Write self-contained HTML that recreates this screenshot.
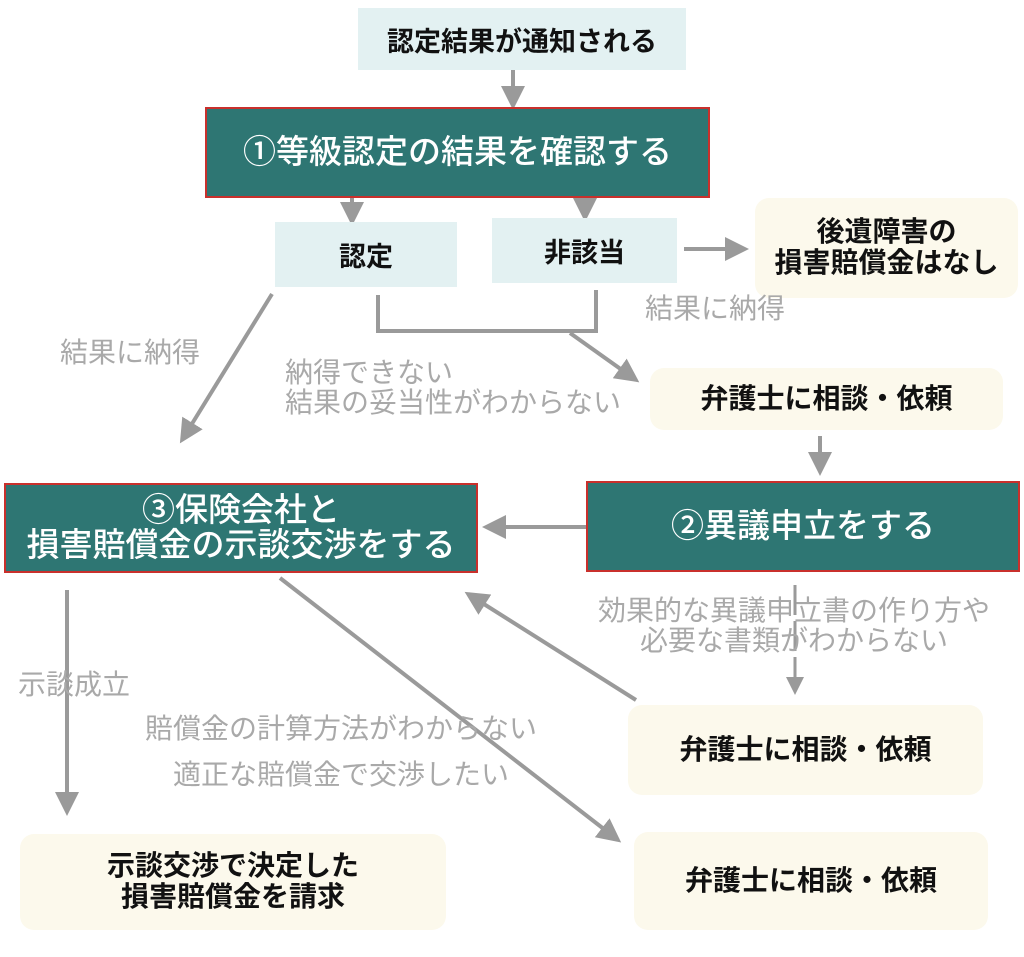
<!DOCTYPE html>
<html><head><meta charset="utf-8"><style>
body{margin:0;width:1024px;height:957px;background:#fff;position:relative;overflow:hidden;font-family:"Liberation Sans","Noto Sans CJK JP",sans-serif;}
.b{position:absolute;display:flex;align-items:center;justify-content:center;text-align:center;font-weight:bold;color:#111;box-sizing:border-box;white-space:nowrap;}
.cy{background:#e3f1f2;font-size:27px;}
.tl{background:#2e7673;border:2px solid #c9302c;color:#fff;font-size:33px;font-weight:500;line-height:1.05;}
.cr{background:#fcf9ec;border-radius:14px;font-size:28px;line-height:1.1;}
.g{position:absolute;color:#a9a9a9;font-size:28px;line-height:1.08;white-space:nowrap;}
svg{position:absolute;left:0;top:0;}
</style></head><body>
<svg width="1024" height="957">
<defs><marker id="a" markerWidth="6" markerHeight="6" refX="5" refY="3" orient="auto" markerUnits="strokeWidth"><path d="M0,0L6,3L0,6z" fill="#9a9a9a"/></marker></defs>
<g stroke="#9a9a9a" stroke-width="4" fill="none">
<line x1="513" y1="70" x2="513" y2="106" marker-end="url(#a)"/>
<line x1="352" y1="198" x2="352" y2="222" marker-end="url(#a)"/>
<line x1="585" y1="188" x2="585" y2="218" marker-end="url(#a)"/>
<line x1="684" y1="249" x2="745" y2="249" marker-end="url(#a)"/>
<polyline points="378,295 378,331 596,331 596,290"/>
<line x1="570" y1="333" x2="636" y2="380" marker-end="url(#a)"/>
<line x1="272" y1="294" x2="182" y2="440" marker-end="url(#a)"/>
<line x1="820" y1="436" x2="820" y2="472" marker-end="url(#a)"/>
<line x1="586" y1="527" x2="486" y2="527" marker-end="url(#a)"/>
<line x1="795" y1="585" x2="795" y2="692" marker-end="url(#a)" stroke-dasharray="30 6" stroke-width="3"/>
<line x1="636" y1="700" x2="468" y2="594" marker-end="url(#a)"/>
<line x1="280" y1="578" x2="618" y2="840" marker-end="url(#a)"/>
<line x1="67" y1="590" x2="67" y2="812" marker-end="url(#a)"/>
</g></svg>
<div class="b cy" style="left:358px;top:8px;width:328px;height:62px;">認定結果が通知される</div>
<div class="b tl" style="left:205px;top:107px;width:505px;height:91px;">①等級認定の結果を確認する</div>
<div class="b cy" style="left:275px;top:222px;width:182px;height:65px;">認定</div>
<div class="b cy" style="left:492px;top:218px;width:185px;height:65px;">非該当</div>
<div class="b cr" style="left:755px;top:198px;width:263px;height:100px;">後遺障害の<br>損害賠償金はなし</div>
<div class="g" style="left:645px;top:294px;">結果に納得</div>
<div class="g" style="left:60px;top:338px;">結果に納得</div>
<div class="g" style="left:285px;top:358px;">納得できない<br>結果の妥当性がわからない</div>
<div class="b cr" style="left:650px;top:368px;width:353px;height:62px;">弁護士に相談・依頼</div>
<div class="b tl" style="left:4px;top:483px;width:474px;height:90px;">③保険会社と<br>損害賠償金の示談交渉をする</div>
<div class="b tl" style="left:586px;top:481px;width:434px;height:91px;">②異議申立をする</div>
<div class="g" style="left:598px;top:596px;text-align:center;">効果的な異議申立書の作り方や<br>必要な書類がわからない</div>
<div class="b cr" style="left:628px;top:705px;width:355px;height:90px;">弁護士に相談・依頼</div>
<div class="g" style="left:18px;top:670px;">示談成立</div>
<div class="g" style="left:145px;top:706px;text-align:center;line-height:1.65;">賠償金の計算方法がわからない<br>適正な賠償金で交渉したい</div>
<div class="b cr" style="left:20px;top:834px;width:426px;height:96px;">示談交渉で決定した<br>損害賠償金を請求</div>
<div class="b cr" style="left:634px;top:832px;width:354px;height:98px;">弁護士に相談・依頼</div>
</body></html>
